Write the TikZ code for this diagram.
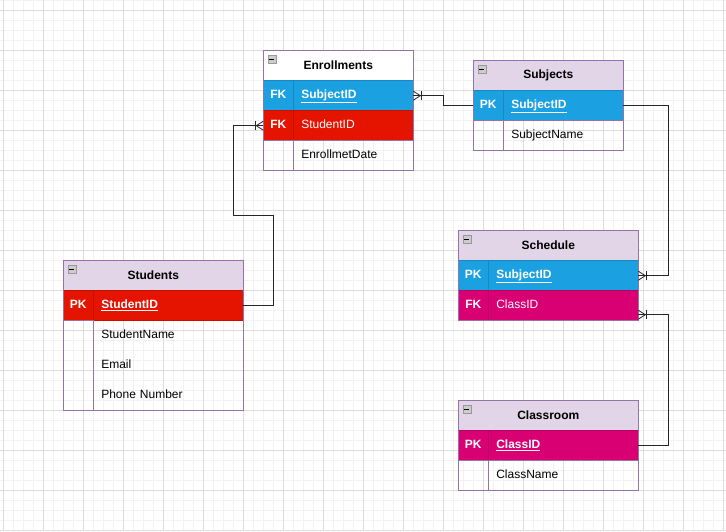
\documentclass[tikz,border=0pt]{standalone}
\usepackage{fontspec}
\setmainfont{Liberation Sans}
\usetikzlibrary{calc}
\definecolor{cblue}{HTML}{1BA1E2}
\definecolor{cred}{HTML}{E51400}
\definecolor{cmag}{HTML}{D80073}
\definecolor{hdr}{HTML}{E1D5E7}
\definecolor{brd}{HTML}{9673A6}
\definecolor{gmaj}{HTML}{DCDCDC}
\definecolor{gmin}{HTML}{F2F2F2}
\begin{document}
\begin{tikzpicture}[x=1pt,y=-1pt,
  cell/.style={draw=brd, line width=0.8pt, minimum height=30pt, anchor=north west, inner sep=0pt, outer sep=0pt, text height=9pt, text depth=3pt, font=\fontsize{12}{14}\selectfont},
  keycell/.style={cell, minimum width=30pt, font=\fontsize{12}{14}\selectfont\bfseries},
  namecell/.style={cell, inner xsep=8pt, text width=#1, align=left},
  namecell/.default=104pt,
  hdrcell/.style={cell, fill=hdr, font=\fontsize{12}{14}\selectfont\bfseries},
  colrow/.style={fill=#1, draw=#1!85!black, text=white},
  outline/.style={draw=brd, line width=0.8pt},
  conn/.style={draw=black!85, line width=0.8pt},
  iconbox/.style={draw=gray!80, fill=gray!40, minimum width=8pt, minimum height=8pt, inner sep=0pt, anchor=north west, path picture={\draw[black, line width=1.4pt] ([xshift=1.5pt]path picture bounding box.west) -- ([xshift=-1.5pt]path picture bounding box.east);}},
  crow/.pic={\draw[conn] (0,-4.5) -- (7,0) -- (0,4.5); \draw[conn] (8,-4.5) -- (8,4.5);}
]
\useasboundingbox (0,0) rectangle (726,531);
\fill[white] (0,0) rectangle (726,531);
% grid
\foreach \x in {3.3,13.3,...,726} \draw[gmin, line width=0.8pt] (\x,0) -- (\x,531);
\foreach \y in {0,10,...,531} \draw[gmin, line width=0.8pt] (0,\y) -- (726,\y);
\foreach \x in {3.3,43.3,...,726} \draw[gmaj, line width=0.8pt] (\x,0) -- (\x,531);
\foreach \y in {10,50,...,531} \draw[gmaj, line width=0.8pt] (0,\y) -- (726,\y);

% ---------- Enrollments ----------
\node[hdrcell, fill=white, minimum width=150pt] (enrH) at (263.3,50.7) {};
\node[font=\fontsize{12}{14}\selectfont\bfseries] (enrT) at (enrH.center) {Enrollments};
\node[iconbox] (enrI) at (267.7,55) {};
\node[keycell, colrow=cblue] (enrSubK) at (263.3,80.7) {FK};
\node[namecell, colrow=cblue] (enrSubN) at (enrSubK.north east) {\textbf{\underline{SubjectID}}};
\node[keycell, colrow=cred] (enrStuK) at (263.3,110.7) {FK};
\node[namecell, colrow=cred] (enrStuN) at (enrStuK.north east) {StudentID};
\node[keycell] (enrDateK) at (263.3,140.7) {};
\node[namecell] (enrDateN) at (enrDateK.north east) {EnrollmetDate};
\draw[outline] (enrH.north west) rectangle (enrDateN.south east);

% ---------- Subjects ----------
\node[hdrcell, minimum width=150pt] (subH) at (473.3,60.7) {};
\node[font=\fontsize{12}{14}\selectfont\bfseries] (subT) at (subH.center) {Subjects};
\node[iconbox] (subI) at (477.7,65) {};
\node[keycell, colrow=cblue] (subIdK) at (473.3,90.7) {PK};
\node[namecell, colrow=cblue] (subIdN) at (subIdK.north east) {\textbf{\underline{SubjectID}}};
\node[keycell] (subNmK) at (473.3,120.7) {};
\node[namecell] (subNmN) at (subNmK.north east) {SubjectName};
\draw[outline] (subH.north west) rectangle (subNmN.south east);

% ---------- Schedule ----------
\node[hdrcell, minimum width=180pt] (schH) at (458.3,230.7) {};
\node[font=\fontsize{12}{14}\selectfont\bfseries] (schT) at (schH.center) {Schedule};
\node[iconbox] (schI) at (462.7,235) {};
\node[keycell, colrow=cblue] (schSubK) at (458.3,260.7) {PK};
\node[namecell=134pt, colrow=cblue] (schSubN) at (schSubK.north east) {\textbf{\underline{SubjectID}}};
\node[keycell, colrow=cmag] (schClsK) at (458.3,290.7) {FK};
\node[namecell=134pt, colrow=cmag] (schClsN) at (schClsK.north east) {ClassID};
\draw[outline] (schH.north west) rectangle (schClsN.south east);

% ---------- Classroom ----------
\node[hdrcell, minimum width=180pt] (clsH) at (458.3,400.7) {};
\node[font=\fontsize{12}{14}\selectfont\bfseries] (clsT) at (clsH.center) {Classroom};
\node[iconbox] (clsI) at (462.7,405) {};
\node[keycell, colrow=cmag] (clsIdK) at (458.3,430.7) {PK};
\node[namecell=134pt, colrow=cmag] (clsIdN) at (clsIdK.north east) {\textbf{\underline{ClassID}}};
\node[keycell] (clsNmK) at (458.3,460.7) {};
\node[namecell=134pt] (clsNmN) at (clsNmK.north east) {ClassName};
\draw[outline] (clsH.north west) rectangle (clsNmN.south east);

% ---------- Students ----------
\node[hdrcell, minimum width=180pt] (stuH) at (63.3,260.7) {};
\node[font=\fontsize{12}{14}\selectfont\bfseries] (stuT) at (stuH.center) {Students};
\node[iconbox] (stuI) at (67.7,265) {};
\node[keycell, colrow=cred] (stuIdK) at (63.3,290.7) {PK};
\node[namecell=134pt, colrow=cred] (stuIdN) at (stuIdK.north east) {\textbf{\underline{StudentID}}};
\node[keycell, minimum height=89.3pt] (stuRestK) at (63.3,320.7) {};
\node[namecell=134pt, draw=none] (stuNmN) at (stuIdK.south east) {StudentName};
\node[namecell=134pt, draw=none] (stuEmN) at (stuNmN.south west) {Email};
\node[namecell=134pt, draw=none, minimum height=29.3pt] (stuPhN) at (stuEmN.south west) {Phone Number};
\draw[outline] (stuH.north west) rectangle (stuPhN.south east);

% ---------- connectors ----------
\coordinate (c1a) at (273.3,215.7);
\coordinate (c1b) at (233.3,215.7);
\draw[conn] (stuIdN.east) -| (c1a) -- (c1b) |- (enrStuK.west);
\pic[xscale=-1] at (enrStuK.west) {crow};

\draw[conn] (subIdK.west) -- ++(-30,0) |- (enrSubN.east);
\pic at (enrSubN.east) {crow};

\draw[conn] (subIdN.east) -- ++(45,0) |- (schSubN.east);
\pic at (schSubN.east) {crow};

\coordinate (c4end) at ([yshift=-9pt]schClsN.east);
\draw[conn] (clsIdN.east) -- ++(30,0) |- (c4end);
\pic at (c4end) {crow};
\end{tikzpicture}
\end{document}
